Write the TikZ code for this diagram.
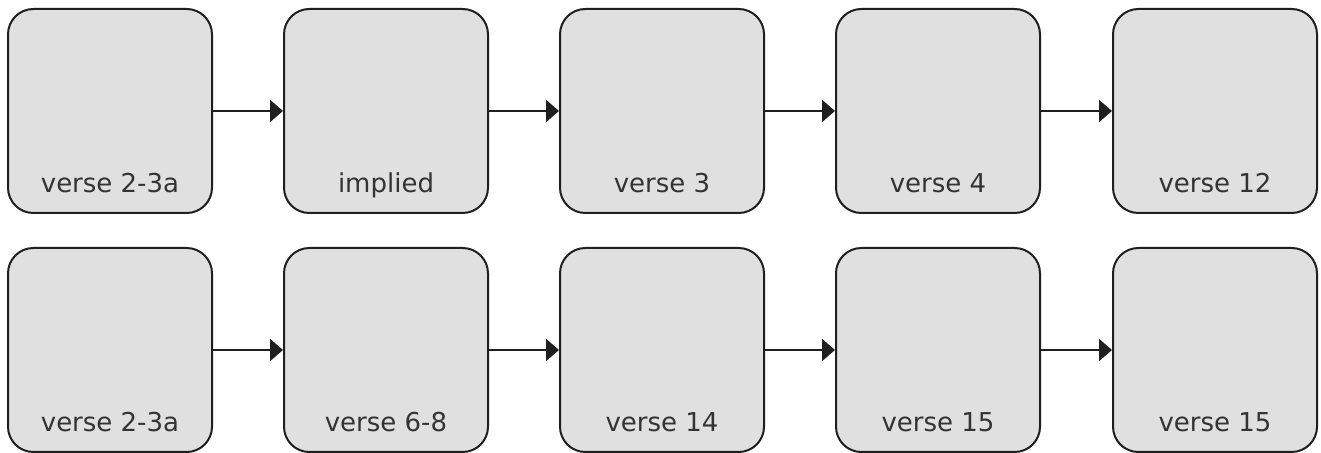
\documentclass[tikz,border=0pt]{standalone}
\usepackage{fontspec}
\setmainfont{DejaVu Sans}
\usetikzlibrary{arrows.meta}

\tikzset{
  versebox/.style={draw=black!88, fill=black!12, line width=1.5pt,
    rounded corners=19pt, minimum width=153pt, minimum height=153pt,
    inner sep=0pt},
  versetext/.style={anchor=base, text=black!80, inner sep=0pt,
    font=\fontsize{19.5pt}{22pt}\selectfont},
  flow/.style={draw=black!88, line width=1.5pt,
    -{Triangle[length=9.75pt, width=16.5pt]}}
}

\begin{document}
\begin{tikzpicture}[x=0.75pt, y=0.75pt]
  \useasboundingbox (0,0) rectangle (1321,453);

  % upper row
  \node[versebox] (a1) at (110,342) {};
  \node[versebox] (a2) at (386,342) {};
  \node[versebox] (a3) at (662,342) {};
  \node[versebox] (a4) at (938,342) {};
  \node[versebox] (a5) at (1215,342) {};

  \node[versetext] (ta1) at ([yshift=16pt]a1.south) {verse 2-3a};
  \node[versetext] (ta2) at ([yshift=16pt]a2.south) {implied};
  \node[versetext] (ta3) at ([yshift=16pt]a3.south) {verse 3};
  \node[versetext] (ta4) at ([yshift=16pt]a4.south) {verse 4};
  \node[versetext] (ta5) at ([yshift=16pt]a5.south) {verse 12};

  \draw[flow] (a1) -- (a2);
  \draw[flow] (a2) -- (a3);
  \draw[flow] (a3) -- (a4);
  \draw[flow] (a4) -- (a5);

  % lower row
  \node[versebox] (b1) at (110,103) {};
  \node[versebox] (b2) at (386,103) {};
  \node[versebox] (b3) at (662,103) {};
  \node[versebox] (b4) at (938,103) {};
  \node[versebox] (b5) at (1215,103) {};

  \node[versetext] (tb1) at ([yshift=16pt]b1.south) {verse 2-3a};
  \node[versetext] (tb2) at ([yshift=16pt]b2.south) {verse 6-8};
  \node[versetext] (tb3) at ([yshift=16pt]b3.south) {verse 14};
  \node[versetext] (tb4) at ([yshift=16pt]b4.south) {verse 15};
  \node[versetext] (tb5) at ([yshift=16pt]b5.south) {verse 15};

  \draw[flow] (b1) -- (b2);
  \draw[flow] (b2) -- (b3);
  \draw[flow] (b3) -- (b4);
  \draw[flow] (b4) -- (b5);
\end{tikzpicture}
\end{document}
